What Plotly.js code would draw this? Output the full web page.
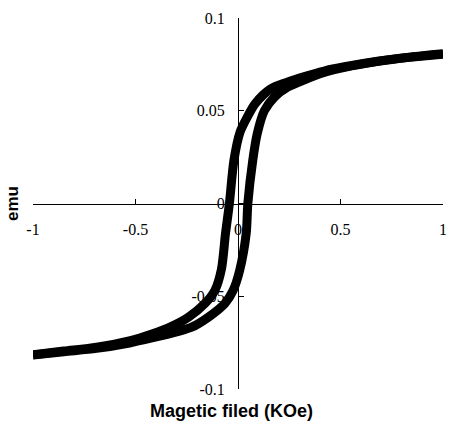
<!DOCTYPE html>
<html>
<head>
<meta charset="utf-8">
<script src="https://cdn.plot.ly/plotly-3.0.1.min.js"></script>
<style>html,body{margin:0;padding:0;background:#fff;}#chart{width:449px;height:423px;}</style>
</head>
<body>
<div id="chart"></div>
<script>
// Descending branch (field swept from +1 to -1 KOe)
var fieldDown = [1.0, 0.84, 0.68, 0.52, 0.42, 0.32, 0.24, 0.16, 0.085, 0.045, 0.01, -0.02, -0.042, -0.061, -0.081, -0.113, -0.161, -0.242, -0.324, -0.42, -0.53, -0.69, -0.85, -1.0];
var momentDown = [0.0807, 0.0789, 0.0767, 0.0737, 0.0714, 0.0683, 0.0654, 0.0618, 0.0540, 0.0466, 0.0385, 0.0232, 0.0, -0.0162, -0.0355, -0.0469, -0.0539, -0.0613, -0.0662, -0.0703, -0.0740, -0.0774, -0.0795, -0.0815];
// Ascending branch (field swept from -1 to +1 KOe)
var fieldUp = [-1.0, -0.85, -0.69, -0.53, -0.42, -0.30, -0.226, -0.145, -0.064, -0.024, 0.008, 0.040, 0.048, 0.072, 0.094, 0.129, 0.177, 0.242, 0.322, 0.42, 0.52, 0.676, 0.836, 1.0];
var momentUp = [-0.0817, -0.0799, -0.0781, -0.0752, -0.0725, -0.0692, -0.0667, -0.0613, -0.0539, -0.0469, -0.0361, -0.0162, 0.0, 0.0232, 0.0377, 0.0501, 0.0573, 0.0627, 0.0666, 0.0706, 0.0734, 0.0765, 0.0788, 0.0805];

var xTickVals = [-1, -0.5, 0, 0.5, 1];
var xTickText = ['-1', '-0.5', '0', '0.5', '1'];
var yTickVals = [-0.1, -0.05, 0, 0.05, 0.1];
var yTickText = ['-0.1', '-0.05', '0', '0.05', '0.1'];

var lineStyle = {color: '#000', width: 9, shape: 'spline', smoothing: 0.8};
var traces = [
  {x: fieldDown, y: momentDown, mode: 'lines', line: lineStyle, showlegend: false, hoverinfo: 'none'},
  {x: fieldUp, y: momentUp, mode: 'lines', line: lineStyle, showlegend: false, hoverinfo: 'none'}
];

var tickFont = {family: 'Liberation Serif, Times New Roman, serif', size: 16, color: '#000'};
var layout = {
  width: 449, height: 423,
  margin: {l: 33, r: 6, t: 18, b: 34, pad: 0},
  paper_bgcolor: '#fff', plot_bgcolor: '#fff',
  showlegend: false,
  xaxis: {
    range: [-1, 1], anchor: 'free', position: 0.5,
    showline: true, linecolor: '#000', linewidth: 1,
    ticks: 'inside', ticklen: 5, tickcolor: '#000', tickwidth: 1,
    tickmode: 'array', tickvals: xTickVals, ticktext: xTickText,
    tickfont: tickFont, ticklabelstandoff: 11, ticklabeloverflow: 'allow',
    showgrid: false, zeroline: false, fixedrange: true
  },
  yaxis: {
    range: [-0.1, 0.1], anchor: 'free', position: 0.5,
    showline: true, linecolor: '#000', linewidth: 1,
    ticks: 'inside', ticklen: 5, tickcolor: '#000', tickwidth: 1,
    tickmode: 'array', tickvals: yTickVals, ticktext: yTickText,
    tickfont: tickFont, ticklabelstandoff: 10, ticklabeloverflow: 'allow',
    showgrid: false, zeroline: false, fixedrange: true
  },
  annotations: [
    {text: '<b>emu</b>', xref: 'paper', yref: 'paper', x: -0.05, y: 0.5, xanchor: 'center', yanchor: 'middle',
     textangle: -90, showarrow: false, font: {family: 'Liberation Sans, Arial, sans-serif', size: 17, color: '#000'}},
    {text: '<b>Magetic filed (KOe)</b>', xref: 'paper', yref: 'paper', x: 0.485, y: -0.06, xanchor: 'center', yanchor: 'middle',
     showarrow: false, font: {family: 'Liberation Sans, Arial, sans-serif', size: 18, color: '#000'}}
  ]
};
Plotly.newPlot('chart', traces, layout, {displayModeBar: false, staticPlot: true});
</script>
</body>
</html>
